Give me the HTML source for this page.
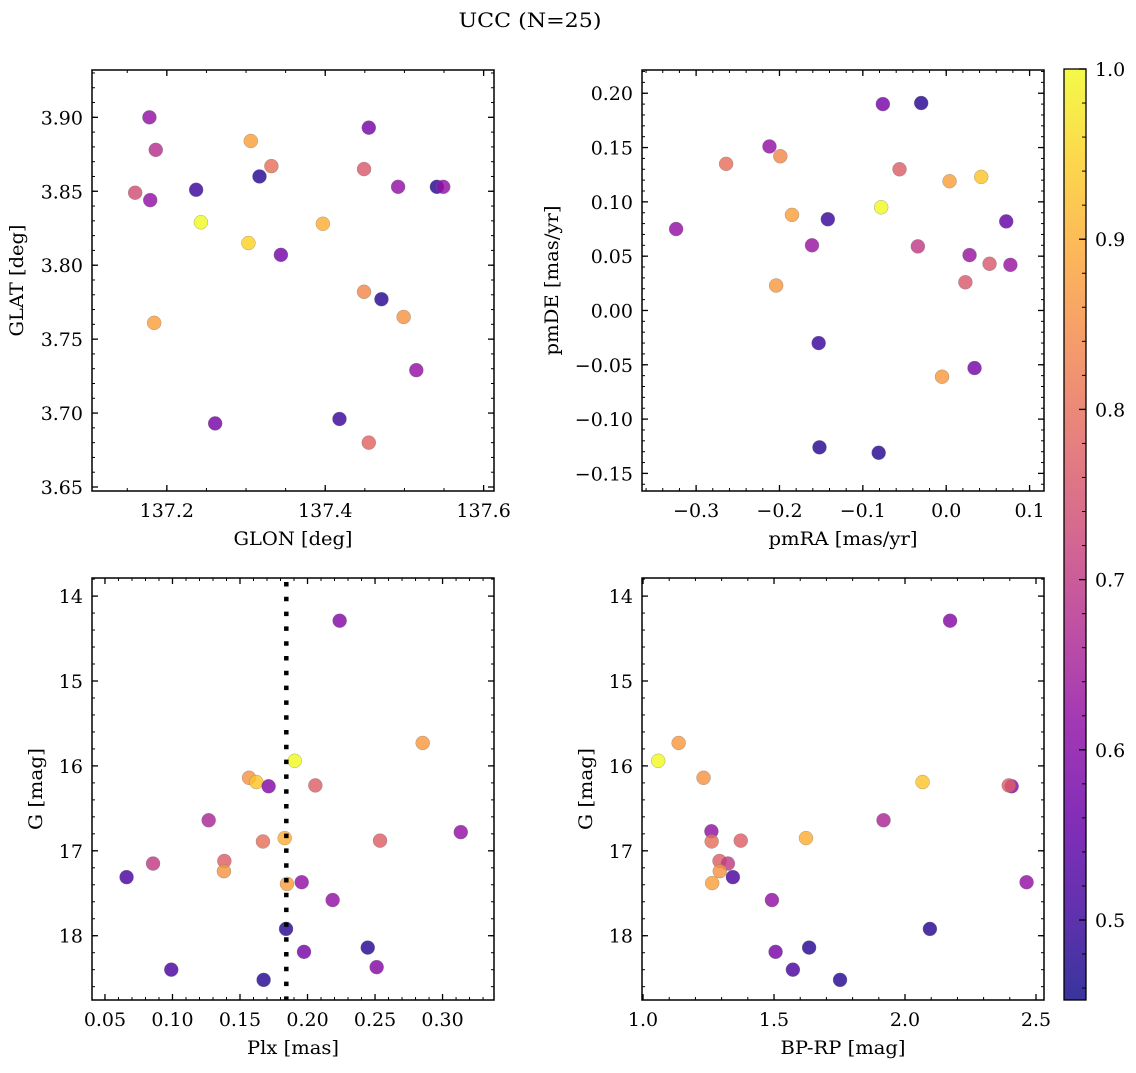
<!DOCTYPE html>
<html><head><meta charset="utf-8"><style>
html,body{margin:0;padding:0;background:#fff;}
svg text{font-family:"DejaVu Serif","Liberation Serif",serif;fill:#000;}
</style></head><body>
<svg id="fig" width="1136" height="1068" viewBox="0 0 1136 1068" xmlns="http://www.w3.org/2000/svg">
<text x="530" y="27" font-size="20" text-anchor="middle" textLength="143" lengthAdjust="spacingAndGlyphs">UCC (N=25)</text>
</svg>
<script>
// ---- data: top-left GLON/GLAT ----
const glon = [137.178,137.186,137.160,137.179,137.237,137.243,137.306,137.332,137.317,137.303,137.344,137.397,137.184,137.261,137.418,137.455,137.449,137.492,137.541,137.549,137.449,137.471,137.499,137.515,137.455];
const glat = [3.900,3.878,3.849,3.844,3.851,3.829,3.884,3.867,3.860,3.815,3.807,3.828,3.761,3.693,3.696,3.893,3.865,3.853,3.853,3.853,3.782,3.777,3.765,3.729,3.680];
const probTL = [0.62,0.68,0.74,0.62,0.5,1.0,0.88,0.8,0.48,0.95,0.58,0.9,0.88,0.58,0.5,0.58,0.76,0.62,0.48,0.62,0.84,0.48,0.86,0.62,0.78];
// ---- data: top-right pmRA/pmDE ----
const pmra = [-0.324,-0.264,-0.212,-0.199,-0.185,-0.204,-0.161,-0.142,-0.153,-0.152,-0.081,-0.076,-0.030,-0.056,-0.078,0.004,0.042,-0.034,0.028,0.052,0.023,0.072,0.077,-0.005,0.034];
const pmde = [0.075,0.135,0.151,0.142,0.088,0.023,0.060,0.084,-0.030,-0.126,-0.131,0.190,0.191,0.130,0.095,0.119,0.123,0.059,0.051,0.043,0.026,0.082,0.042,-0.061,-0.053];
const probTR = [0.62,0.8,0.62,0.84,0.88,0.87,0.63,0.5,0.5,0.48,0.48,0.58,0.48,0.77,1.0,0.88,0.93,0.7,0.63,0.76,0.76,0.55,0.63,0.87,0.58];
// ---- data: bottom-left Plx/G ----
const plx = [0.2238,0.2853,0.1905,0.1567,0.1621,0.1712,0.2058,0.1268,0.1670,0.1831,0.2537,0.3135,0.0856,0.0660,0.1384,0.1381,0.1848,0.1957,0.2186,0.1841,0.1974,0.2446,0.2512,0.0991,0.1675];
const gmagBL = [14.29,15.73,15.94,16.14,16.19,16.24,16.23,16.64,16.89,16.85,16.88,16.78,17.15,17.31,17.12,17.24,17.39,17.37,17.58,17.92,18.19,18.14,18.37,18.40,18.52];
const probBL = [0.6,0.87,1.0,0.86,0.93,0.6,0.77,0.66,0.8,0.9,0.77,0.62,0.7,0.52,0.77,0.86,0.88,0.62,0.62,0.48,0.58,0.48,0.6,0.52,0.48];
const plxLine = [0.1843];
// ---- data: bottom-right BP-RP/G ----
const bprp = [2.172,1.058,1.136,1.231,2.067,2.407,2.396,1.918,1.261,1.262,1.373,1.622,1.292,1.324,1.293,1.264,1.343,2.464,1.492,2.095,1.506,1.634,1.572,1.752];
const gmagBR = [14.29,15.94,15.73,16.14,16.19,16.24,16.23,16.64,16.77,16.89,16.88,16.85,17.12,17.15,17.24,17.38,17.31,17.37,17.58,17.92,18.19,18.14,18.40,18.52];
const probBR = [0.6,1.0,0.87,0.86,0.93,0.6,0.77,0.66,0.62,0.8,0.77,0.9,0.77,0.7,0.86,0.88,0.52,0.62,0.62,0.48,0.58,0.48,0.52,0.48];
// ---- ticks ----
const tlXTicks = [137.2,137.4,137.6];
const tlYTicks = [3.65,3.70,3.75,3.80,3.85,3.90];
const trXTicks = [-0.3,-0.2,-0.1,0.0,0.1];
const trYTicks = [-0.15,-0.10,-0.05,0.00,0.05,0.10,0.15,0.20];
const blXTicks = [0.05,0.10,0.15,0.20,0.25,0.30];
const gTicks = [14,15,16,17,18];
const brXTicks = [1.0,1.5,2.0,2.5];
const cbTicks = [0.5,0.6,0.7,0.8,0.9,1.0];

const NS="http://www.w3.org/2000/svg";
const svg=document.getElementById('fig');
function mk(tag,attrs,parent){const e=document.createElementNS(NS,tag);for(const k in attrs)e.setAttribute(k,attrs[k]);(parent||svg).appendChild(e);return e;}
const stops=["#0d0887","#41049d","#6a00a8","#8f0da4","#b12a90","#cc4778","#e16462","#f2844b","#fca636","#fcce25","#f0f921"];
const VMIN=0.453,VMAX=1.0;
function hx(c){return [parseInt(c.slice(1,3),16),parseInt(c.slice(3,5),16),parseInt(c.slice(5,7),16)];}
function cmap(v){let t=(v-VMIN)/(VMAX-VMIN);t=Math.max(0,Math.min(1,t));const p=t*10,i=Math.min(9,Math.floor(p)),f=p-i;const a=hx(stops[i]),b=hx(stops[i+1]);return 'rgb('+a.map((x,k)=>Math.round(x+(b[k]-x)*f)).join(',')+')';}
function fmt(v,d){let s=v.toFixed(d);if(s.startsWith('-')){if(parseFloat(s)===0)s=s.slice(1);else s='\u2212'+s.slice(1);}return s;}
const TFS=19, LFS=18.5;
// estimated DejaVu Serif advance widths (em) so text width matches reference
function tw(s,fs){let w=0;for(const ch of s){w+= ch==='.'?0.318: ch==='\u2212'?0.838: 0.636;}return w*fs;}
function fit(t,s,fs){t.setAttribute('textLength',tw(s,fs).toFixed(1));t.setAttribute('lengthAdjust','spacingAndGlyphs');}

function panel(o){
  const g=mk('g',{});
  
  
  const sx=v=>o.x0+(v-o.xmin)/(o.xmax-o.xmin)*(o.x1-o.x0);
  const sy=v=>o.inv? o.y0+(v-o.ymin)/(o.ymax-o.ymin)*(o.y1-o.y0) : o.y1-(v-o.ymin)/(o.ymax-o.ymin)*(o.y1-o.y0);
  const tg=mk('g',{stroke:'#000','stroke-width':1},g);
  for(let v=Math.ceil(o.xmin/o.xminor)*o.xminor;v<=o.xmax;v+=o.xminor){const x=sx(v);mk('line',{x1:x,x2:x,y1:o.y1,y2:o.y1-3},tg);mk('line',{x1:x,x2:x,y1:o.y0,y2:o.y0+3},tg);}
  for(let v=Math.ceil(o.ymin/o.yminor)*o.yminor;v<=o.ymax;v+=o.yminor){const y=sy(v);mk('line',{x1:o.x0,x2:o.x0+3,y1:y,y2:y},tg);mk('line',{x1:o.x1,x2:o.x1-3,y1:y,y2:y},tg);}
  o.xt.forEach(v=>{const x=sx(v);mk('line',{x1:x,x2:x,y1:o.y1,y2:o.y1-6,'stroke-width':1.3},tg);mk('line',{x1:x,x2:x,y1:o.y0,y2:o.y0+6,'stroke-width':1.3},tg);
    const s=fmt(v,o.xd);
    const t=mk('text',{x:x,y:o.y1+26,'font-size':TFS,'text-anchor':'middle'},g);t.textContent=s;fit(t,s,TFS);
    
    });
  o.yt.forEach(v=>{const y=sy(v);mk('line',{x1:o.x0,x2:o.x0+6,y1:y,y2:y,'stroke-width':1.3},tg);mk('line',{x1:o.x1,x2:o.x1-6,y1:y,y2:y,'stroke-width':1.3},tg);
    const s=fmt(v,o.yd);
    const t=mk('text',{x:o.x0-9,y:y+7,'font-size':TFS,'text-anchor':'end'},g);t.textContent=s;fit(t,s,TFS);
    
    });
  const pg=mk('g',{},g);
  o.xs.forEach((xv,i)=>{const c=mk('circle',{cx:sx(xv),cy:sy(o.ys[i]),r:7,fill:cmap(o.c[i]),'fill-opacity':0.82,stroke:'#777','stroke-width':0.5,'stroke-opacity':0.6},pg);
    
    });
  if(o.vline){o.vline.forEach(v=>{const l=mk('line',{x1:sx(v),x2:sx(v),y1:o.y0+4,y2:o.y1,stroke:'#000','stroke-width':4.5,'stroke-dasharray':'4.5 10.3'},g);
    
    });}
  mk('rect',{x:o.x0,y:o.y0,width:o.x1-o.x0,height:o.y1-o.y0,fill:'none',stroke:'#000','stroke-width':1.5},g);
  const xl=mk('text',{x:(o.x0+o.x1)/2,y:o.y1+54,'font-size':LFS,'text-anchor':'middle',textLength:o.xlw,lengthAdjust:'spacingAndGlyphs'},g);xl.textContent=o.xlabel;
  
  
  const yl=mk('text',{x:0,y:0,'font-size':LFS,'text-anchor':'middle',textLength:o.ylw,lengthAdjust:'spacingAndGlyphs',transform:'translate('+o.ylx+','+(o.y0+o.y1)/2+') rotate(-90)'},g);yl.textContent=o.ylabel;
  
  
}
panel({name:'glon-glat-panel',x0:92,x1:494,y0:70,y1:491,xmin:137.1055,xmax:137.6131,ymin:3.6473,ymax:3.9320,xminor:0.05,yminor:0.01,xt:tlXTicks,yt:tlYTicks,xd:1,yd:2,xs:glon,ys:glat,c:probTL,xlabel:'GLON [deg]',xlw:119,ylabel:'GLAT [deg]',ylw:112,ylx:23});
panel({name:'pm-panel',x0:642,x1:1044,y0:70,y1:491,xmin:-0.3649,xmax:0.1173,ymin:-0.1662,ymax:0.2214,xminor:0.02,yminor:0.01,xt:trXTicks,yt:trYTicks,xd:1,yd:2,xs:pmra,ys:pmde,c:probTR,xlabel:'pmRA [mas/yr]',xlw:149,ylabel:'pmDE [mas/yr]',ylw:150,ylx:558});
panel({name:'plx-g-panel',x0:92,x1:494,y0:578,y1:1000,inv:true,xmin:0.0404,xmax:0.3381,ymin:13.787,ymax:18.757,xminor:0.01,yminor:0.2,xt:blXTicks,yt:gTicks,xd:2,yd:0,xs:plx,ys:gmagBL,c:probBL,vline:plxLine,xlabel:'Plx [mas]',xlw:92,ylabel:'G [mag]',ylw:82,ylx:42});
panel({name:'color-magnitude-panel',x0:642,x1:1044,y0:578,y1:1000,inv:true,xmin:0.9961,xmax:2.5305,ymin:13.787,ymax:18.757,xminor:0.1,yminor:0.2,xt:brXTicks,yt:gTicks,xd:1,yd:0,xs:bprp,ys:gmagBR,c:probBR,xlabel:'BP-RP [mag]',xlw:125,ylabel:'G [mag]',ylw:82,ylx:592});

const cb=mk('g',{});


const defs=mk('defs',{});
const lg=mk('linearGradient',{id:'cbg',x1:0,y1:1,x2:0,y2:0},defs);
for(let i=0;i<=20;i++){const v=VMIN+(VMAX-VMIN)*i/20;mk('stop',{offset:(i/20),'stop-color':cmap(v),'stop-opacity':0.82},lg);}
const CY0=69,CY1=1000,cy=v=>CY1-(v-VMIN)/(VMAX-VMIN)*(CY1-CY0);
mk('rect',{x:1064,y:CY0,width:22,height:CY1-CY0,fill:'url(#cbg)'},cb);
for(let v=0.46;v<=1.0001;v+=0.02){const y=cy(v);mk('line',{x1:1086,x2:1082,y1:y,y2:y,stroke:'#000','stroke-width':1},cb);}
cbTicks.forEach(v=>{const y=cy(v);mk('line',{x1:1086,x2:1079,y1:y,y2:y,stroke:'#000','stroke-width':1.3},cb);
  const s=v.toFixed(1);
  const t=mk('text',{x:1095,y:y+7,'font-size':TFS},cb);t.textContent=s;fit(t,s,TFS);
  
  });
mk('rect',{x:1064,y:CY0,width:22,height:CY1-CY0,fill:'none',stroke:'#000','stroke-width':1.3},cb);
</script>
</body></html>
